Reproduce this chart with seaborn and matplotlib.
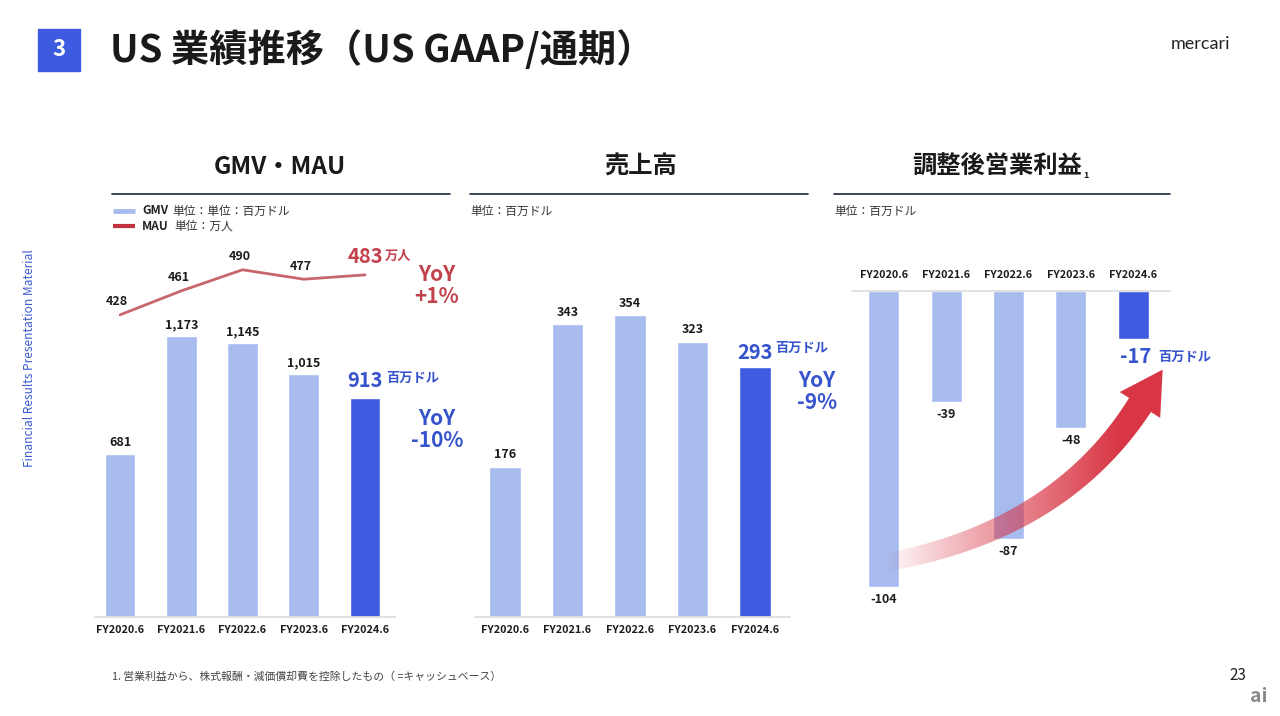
import numpy as np
import seaborn as sns
import matplotlib.pyplot as plt
from matplotlib.patches import Rectangle, Polygon

periods = ["FY2020.6", "FY2021.6", "FY2022.6", "FY2023.6", "FY2024.6"]
gmv = [681, 1173, 1145, 1015, 913]
mau = [428, 461, 490, 477, 483]
revenue = [176, 343, 354, 323, 293]
adj_op = [-104, -39, -87, -48, -17]

LIGHT = "#A8BBEF"
DARK = "#3F5BE0"
BLUE_TXT = "#3553CC"
RED_TXT = "#C3414B"
LINE_RED = "#C8666E"
INK = "#1C1C1C"
bar_colors = [LIGHT] * 4 + [DARK]

sns.set_theme(style="white")
plt.rcParams["font.family"] = ["Noto Sans CJK JP", "DejaVu Sans"]

W, H = 1280, 716
fig = plt.figure(figsize=(12.8, 7.16), dpi=100)


def box(x0, x1, ytop, ybot):
    return [x0 / W, 1 - ybot / H, (x1 - x0) / W, (ybot - ytop) / H]


def pt(px):
    return px * 0.72


def bars(ax, values):
    sns.barplot(x=periods, y=values, hue=periods, palette=bar_colors,
                legend=False, width=0.5, saturation=1, ax=ax)
    ax.set_xlabel("")
    ax.set_ylabel("")
    ax.set_yticks([])
    ax.set_xticks(range(len(periods)))
    ax.set_xticklabels(periods, fontsize=7.8, fontweight="bold", color=INK)
    ax.tick_params(axis="x", length=0, pad=6)
    for s in ["left", "right", "top", "bottom"]:
        ax.spines[s].set_visible(False)


def label(ax, text, xy, dx, dy, size=9, color=INK, weight="bold", **kw):
    ax.annotate(text, xy, xytext=(pt(dx), pt(dy)), textcoords="offset points",
                ha="center", va="center", fontsize=size, fontweight=weight, color=color, **kw)


# --- GMV / MAU ---
ax1 = fig.add_axes(box(95, 395, 240, 617))
bars(ax1, gmv)
ax1.spines["bottom"].set_visible(True)
ax1.spines["bottom"].set_color("#DDDDDD")
for i, v in enumerate(gmv[:-1]):
    label(ax1, f"{v:,}", (i, v), 0, 11)
label(ax1, f"{gmv[-1]}", (4, gmv[-1]), 0, 18, size=14.5, color=BLUE_TXT)
label(ax1, "百万ドル", (4, gmv[-1]), 48, 20, size=9.5, color=BLUE_TXT)
label(ax1, "YoY\n-10%", (4, gmv[-1]), 72, -31, size=15, color=BLUE_TXT,
      weight="semibold", linespacing=1.05)

ax1b = ax1.twinx()
sns.lineplot(x=np.arange(len(periods)), y=mau, color=LINE_RED, linewidth=2.0, ax=ax1b)
ax1b.set_ylim(12, 531)
ax1b.set_yticks([])
ax1b.set_ylabel("")
for s in ["left", "right", "top", "bottom"]:
    ax1b.spines[s].set_visible(False)
for i, v in enumerate(mau[:-1]):
    label(ax1b, f"{v}", (i, v), -3, 13)
label(ax1b, f"{mau[-1]}", (4, mau[-1]), 0, 18, size=14.5, color=RED_TXT)
label(ax1b, "万人", (4, mau[-1]), 33, 19, size=9.5, color=RED_TXT)
label(ax1b, "YoY\n+1%", (4, mau[-1]), 72, -11, size=15, color=RED_TXT,
      weight="semibold", linespacing=1.05)
ax1.set_xlim(-0.41, 4.49)
ax1.set_ylim(0, 1573)

# --- Revenue ---
ax2 = fig.add_axes(box(475, 790, 240, 617))
bars(ax2, revenue)
ax2.spines["bottom"].set_visible(True)
ax2.spines["bottom"].set_color("#DDDDDD")
ax2.set_xlim(-0.48, 4.56)
ax2.set_ylim(0, 442)
for i, v in enumerate(revenue[:-1]):
    label(ax2, f"{v}", (i, v), 0, 12)
label(ax2, f"{revenue[-1]}", (4, revenue[-1]), 0, 15, size=14.5, color=BLUE_TXT)
label(ax2, "百万ドル", (4, revenue[-1]), 47, 19, size=9.5, color=BLUE_TXT)
label(ax2, "YoY\n-9%", (4, revenue[-1]), 62, -24, size=15, color=BLUE_TXT,
      weight="semibold", linespacing=1.05)

# --- Adjusted operating income ---
ax3 = fig.add_axes(box(852, 1170, 291, 620))
bars(ax3, adj_op)
ax3.xaxis.tick_top()
ax3.tick_params(axis="x", length=0, pad=8)
ax3.spines["top"].set_visible(True)
ax3.spines["top"].set_color("#DDDDDD")
ax3.set_xlim(-0.51, 4.59)
ax3.set_ylim(-115.6, 0)
for i, v in enumerate(adj_op[:-1]):
    label(ax3, f"{v}", (i, v), 0, -13)
label(ax3, f"{adj_op[-1]}", (4, adj_op[-1]), 2, -17, size=14.5, color=BLUE_TXT)
label(ax3, "百万ドル", (4, adj_op[-1]), 52, -18, size=9.5, color=BLUE_TXT)

# --- page furniture ---
ov = fig.add_axes([0, 0, 1, 1])
ov.set_zorder(10)
ov.patch.set_alpha(0)
ov.axis("off")

ov.add_patch(Rectangle((38, 29), 42, 42, color="#3D5AE0"))
ov.text(59, 50, "3", color="white", fontsize=16, fontweight="bold", ha="center", va="center")
ov.text(110, 50, "US 業績推移（US GAAP/通期）", fontsize=27.5, fontweight="bold",
        color="#1A1A1A", ha="left", va="center")
ov.text(1200, 44, "mercari", fontsize=13, color="#222222", ha="center", va="center",
        family=["Lato", "DejaVu Sans"])

ov.text(280, 167, "GMV・MAU", fontsize=17.5, fontweight="bold", color="#1A1A1A", ha="center", va="center")
ov.text(641, 167, "売上高", fontsize=17.5, fontweight="bold", color="#1A1A1A", ha="center", va="center")
ov.text(997, 167, "調整後営業利益", fontsize=17.5, fontweight="bold", color="#1A1A1A", ha="center", va="center")
ov.text(1083, 175, "1", fontsize=6.5, fontweight="bold", color="#1A1A1A", ha="left", va="center")
for x0, x1 in [(112, 450), (470, 808), (834, 1170)]:
    ov.plot([x0, x1], [194, 194], color="#1B2440", lw=1.2)

ov.plot([113, 135], [211, 211], color=LIGHT, lw=3.5, solid_capstyle="butt")
ov.plot([113, 135], [226, 226], color="#C0333F", lw=3.0, solid_capstyle="butt")
ov.text(142, 211, "GMV", fontsize=8.5, fontweight="bold", color="#222222", va="center")
ov.text(172, 211, "単位：単位：百万ドル", fontsize=8.5, color="#333333", va="center")
ov.text(142, 226, "MAU", fontsize=8.5, fontweight="bold", color="#222222", va="center")
ov.text(174, 226, "単位：万人", fontsize=8.5, color="#333333", va="center")
ov.text(470, 211, "単位：百万ドル", fontsize=8.5, color="#333333", va="center")
ov.text(834, 211, "単位：百万ドル", fontsize=8.5, color="#333333", va="center")

ov.text(30, 358, "Financial Results Presentation Material", fontsize=8.6, color="#3A5BD0",
        rotation=90, ha="center", va="center")
ov.text(112, 677, "1. 営業利益から、株式報酬・減価償却費を控除したもの（ =キャッシュベース）",
        fontsize=7.8, color="#444444", va="center")
ov.text(1238, 676, "23", fontsize=11, color="#222222", ha="center", va="center")
ov.text(1259, 697, "ai", fontsize=14, color="#8A8A8A", fontweight="bold", style="italic",
        ha="center", va="center")

# red improvement arrow with fading tail (gradient clipped to arrow outline)
p0, p1, p2 = np.array([888., 562.]), np.array([1060., 530.]), np.array([1140., 405.])
t = np.linspace(0, 1, 120)[:, None]
curve = (1 - t) ** 2 * p0 + 2 * (1 - t) * t * p1 + t ** 2 * p2
deriv = 2 * (1 - t) * (p1 - p0) + 2 * t * (p2 - p1)
deriv /= np.linalg.norm(deriv, axis=1, keepdims=True)
norm = np.column_stack([-deriv[:, 1], deriv[:, 0]])
hw = np.linspace(9, 13, len(t))[:, None]
left, right = curve + norm * hw, curve - norm * hw
d, n = deriv[-1], norm[-1]
head = [p2 + n * 24, p2 + d * 42, p2 - n * 24]
outline = np.vstack([left, head, right[::-1]])
clip = Polygon(outline, closed=True, facecolor="none", edgecolor="none", transform=ov.transData)
ov.add_patch(clip)

gx = np.linspace(880, 1190, 400)
ramp = np.clip((gx - 885) / (1120 - 885), 0, 1) ** 0.9 * 0.95
img = np.zeros((2, len(gx), 4))
img[..., :3] = [0.84, 0.17, 0.23]
img[..., 3] = ramp
im = ov.imshow(img, extent=(880, 1190, 600, 360), aspect="auto", interpolation="bilinear")
im.set_clip_path(clip)

ov.set_xlim(0, W)
ov.set_ylim(H, 0)

fig.savefig("out.png", dpi=100)
